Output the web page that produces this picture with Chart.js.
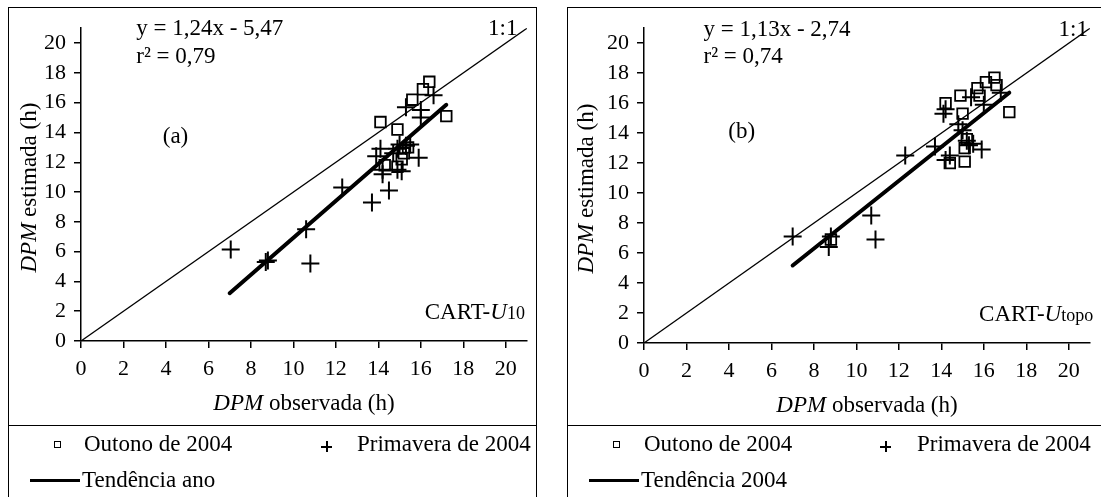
<!DOCTYPE html>
<html>
<head>
<meta charset="utf-8">
<script src="https://cdn.jsdelivr.net/npm/chart.js@4.4.1/dist/chart.umd.min.js"></script>
<style>
  body { margin: 0; width: 1101px; height: 497px; background: #fff; overflow: hidden; position: relative;
         font-family: "Liberation Serif", "Times New Roman", serif; color: #000; }
  .panel { position: absolute; top: 7px; height: 500px; }
  .frame { position: absolute; left: 0; top: 0; right: 0; bottom: 0; border: 1.5px solid #000; pointer-events: none; }
  .panel canvas { position: absolute; left: 0; top: 0; }
  .sep { position: absolute; left: 0; right: 0; top: 418px; border-top: 1.5px solid #000; }
  .lt { position: absolute; font-size: 23px; line-height: 24px; white-space: nowrap; }
  .sq { position: absolute; left: 46px; top: 434px; width: 5px; height: 5px; border: 1.5px solid #000; }
  .cr { position: absolute; left: 313px; top: 434px; width: 11px; height: 11px; }
  .cr::before, .cr::after { content: ""; position: absolute; background: #000; }
  .cr::before { left: 0; top: 4.5px; width: 11px; height: 2px; }
  .cr::after { left: 4.5px; top: 0; width: 2px; height: 11px; }
  .ln { position: absolute; left: 22px; top: 472px; width: 50px; height: 3px; background: #000; }
</style>
</head>
<body>

<div class="panel" style="left:8px; width:529px;">
  <canvas id="chartA" width="530" height="418"></canvas>
  <div class="frame"></div>
  <div class="sep"></div>
  <div class="sq"></div><div class="lt" style="left:76px; top:425px;">Outono de 2004</div>
  <div class="cr"></div><div class="lt" style="left:349px; top:425px;">Primavera de 2004</div>
  <div class="ln"></div><div class="lt" style="left:74px; top:461px;">Tendência ano</div>
</div>

<div class="panel" style="left:567px; width:540px;">
  <canvas id="chartB" width="534" height="418"></canvas>
  <div class="frame"></div>
  <div class="sep"></div>
  <div class="sq"></div><div class="lt" style="left:77px; top:425px;">Outono de 2004</div>
  <div class="cr"></div><div class="lt" style="left:350px; top:425px;">Primavera de 2004</div>
  <div class="ln"></div><div class="lt" style="left:74px; top:461px;">Tendência 2004</div>
</div>

<script>
const tickValues = [0, 2, 4, 6, 8, 10, 12, 14, 16, 18, 20];
const axisMax = 21;
const oneToOne = [0, 21];

// (a) CART-U10
const outonoAX = [14.1, 14.9, 15.6, 16.1, 16.4, 17.2, 14.3, 14.9, 15.1, 15.2, 15.4];
const outonoAY = [14.7, 14.2, 16.2, 16.9, 17.4, 15.1, 11.8, 11.7, 12.2, 12.6, 13.0];
const primaveraAX = [7.05, 8.7, 8.8, 10.6, 10.8, 12.3, 13.7, 14.5, 14.1, 13.9, 14.2, 14.2, 14.9, 15.1,
                     14.9, 15.0, 15.3, 15.5, 15.9, 15.3, 16.0, 16.0, 16.6, 14.7];
const primaveraAY = [6.15, 5.3, 5.4, 7.5, 5.2, 10.3, 9.3, 10.1, 12.9, 12.4, 11.5, 11.2, 11.5, 11.4,
                     12.9, 13.2, 13.1, 13.2, 12.3, 15.7, 15.5, 15.0, 16.5, 12.6];
const slopeA = 1.24, interceptA = -5.47, r2A = 0.79;
const trendRangeA = [7.0, 17.2];

// (b) CART-Utopo
const outonoBX = [14.2, 14.9, 15.0, 15.7, 15.8, 16.1, 16.5, 16.6, 17.2, 14.4, 15.1, 15.1, 15.2, 8.8];
const outonoBY = [16.0, 16.5, 15.3, 17.0, 16.5, 17.4, 17.7, 17.2, 15.4, 12.0, 12.1, 13.0, 13.6, 6.9];
const primaveraBX = [7.0, 8.8, 8.7, 10.7, 10.9, 12.3, 13.7, 14.1, 14.2, 14.2, 14.4, 14.8, 15.0, 15.2,
                     15.5, 15.9, 15.4, 16.0, 16.8, 15.3];
const primaveraBY = [7.1, 7.1, 6.4, 8.5, 6.9, 12.5, 13.1, 15.3, 15.6, 12.2, 12.5, 14.6, 14.2, 13.5,
                     13.3, 12.9, 16.4, 15.9, 16.7, 13.2];
const slopeB = 1.13, interceptB = -2.74, r2B = 0.74;
const trendRangeB = [7.0, 17.2];

const SERIF = '"Liberation Serif", "Times New Roman", serif';
const font = (size, italic) => (italic ? 'italic ' : '') + size + 'px ' + SERIF;
const comma = v => v.toFixed(2).replace('.', ',');
const pts = (xs, ys) => xs.map((x, i) => ({ x: x, y: ys[i] }));

// draws runs of text in mixed fonts along one baseline
function drawRuns(ctx, runs, x, y, align) {
  let total = 0;
  runs.forEach(r => { ctx.font = r.f; r.w = ctx.measureText(r.t).width; total += r.w; });
  let cx = align === 'center' ? x - total / 2 : align === 'right' ? x - total : x;
  ctx.textAlign = 'left';
  runs.forEach(r => { ctx.font = r.f; ctx.fillText(r.t, cx, y); cx += r.w; });
}

const panelText = {
  id: 'panelText',
  afterDraw(chart, args, o) {
    const { ctx, chartArea } = chart;
    const x = chart.scales.x, y = chart.scales.y;
    const px = v => x.getPixelForValue(v), py = v => y.getPixelForValue(v);
    ctx.save();
    ctx.fillStyle = '#000';
    ctx.textBaseline = 'middle';
    ctx.font = font(23);
    ctx.textAlign = 'left';
    ctx.fillText(o.eq, px(o.eqAt[0]), py(o.eqAt[1]));
    ctx.fillText(o.r2, px(o.eqAt[0]), py(o.eqAt[1] - 1.85));
    ctx.textAlign = 'center';
    ctx.fillText(o.tag, px(o.tagAt[0]), py(o.tagAt[1]));
    ctx.textAlign = 'right';
    ctx.fillText('1:1', px(o.oneAt), py(o.eqAt[1]));

    ctx.textBaseline = 'alphabetic';
    drawRuns(ctx, [
      { t: 'CART-', f: font(23) },
      { t: 'U', f: font(23, true) },
      { t: o.sub, f: font(18) }
    ], px(o.cartAt[0]), py(o.cartAt[1]), 'right');

    // axis titles
    drawRuns(ctx, [
      { t: 'DPM', f: font(23, true) },
      { t: ' observada (h)', f: font(23) }
    ], px(10.5), chartArea.bottom + 69, 'center');
    ctx.translate(chartArea.left - o.yTitleOff, py(10.3));
    ctx.rotate(-Math.PI / 2);
    drawRuns(ctx, [
      { t: 'DPM', f: font(23, true) },
      { t: ' estimada (h)', f: font(23) }
    ], 0, 0, 'center');
    ctx.restore();
  }
};

function axis(fit) {
  return {
    type: 'linear', min: 0, max: axisMax,
    afterBuildTicks: s => { s.ticks = tickValues.map(v => ({ value: v })); },
    afterFit: fit,
    border: { display: true, color: '#000', width: 1.5 },
    grid: { drawOnChartArea: false, drawTicks: true, tickLength: 7, color: '#000', lineWidth: 1.5 },
    ticks: { color: '#000', font: { family: SERIF, size: 22 }, padding: 8, maxRotation: 0, autoSkip: false }
  };
}

function makeChart(id, p) {
  return new Chart(document.getElementById(id), {
    type: 'scatter',
    data: {
      datasets: [
        {
          label: 'Outono de 2004', data: pts(p.ox, p.oy),
          pointStyle: 'rect', pointRadius: 7.5, borderWidth: 1.8,
          borderColor: '#000', backgroundColor: 'rgba(0,0,0,0)'
        },
        {
          label: 'Primavera de 2004', data: pts(p.px, p.py),
          pointStyle: 'cross', pointRadius: 9, borderWidth: 2,
          borderColor: '#000', backgroundColor: '#000'
        },
        {
          label: '1:1', type: 'line', data: pts(oneToOne, oneToOne),
          showLine: true, pointRadius: 0, borderWidth: 1.3, borderColor: '#000'
        },
        {
          label: p.trendName, type: 'line',
          data: pts(p.range, p.range.map(v => p.slope * v + p.intercept)),
          showLine: true, pointRadius: 0, borderWidth: 4, borderColor: '#000', borderCapStyle: 'round'
        }
      ]
    },
    options: {
      responsive: false,
      animation: false,
      layout: { padding: { top: p.top, right: p.right, left: 0, bottom: 0 } },
      plugins: {
        legend: { display: false },
        tooltip: { enabled: false },
        panelText: {
          eq: 'y = ' + comma(p.slope) + 'x - ' + comma(-p.intercept),
          r2: 'r² = ' + comma(p.r2),
          eqAt: p.eqAt, tag: p.tag, tagAt: p.tagAt, oneAt: p.oneAt,
          sub: p.sub, cartAt: p.cartAt, yTitleOff: p.yTitleOff
        }
      },
      scales: {
        x: axis(s => { s.height = p.xh; }),
        y: axis(s => { s.width = p.yw; })
      }
    },
    plugins: [panelText]
  });
}

makeChart('chartA', {
  ox: outonoAX, oy: outonoAY, px: primaveraAX, py: primaveraAY,
  slope: slopeA, intercept: interceptA, r2: r2A, range: trendRangeA, trendName: 'Tendência ano',
  top: 19, right: 3, xh: 84, yw: 73,
  eqAt: [2.6, 20.95], tag: '(a)', tagAt: [4.45, 13.7], oneAt: 20.55,
  sub: '10', cartAt: [20.9, 1.5], yTitleOff: 45
});

makeChart('chartB', {
  ox: outonoBX, oy: outonoBY, px: primaveraBX, py: primaveraBY,
  slope: slopeB, intercept: interceptB, r2: r2B, range: trendRangeB, trendName: 'Tendência 2004',
  top: 21, right: 7, xh: 82, yw: 77,
  eqAt: [2.8, 20.9], tag: '(b)', tagAt: [4.6, 14.05], oneAt: 20.9,
  sub: 'topo', cartAt: [21.15, 1.5], yTitleOff: 51
});
</script>
</body>
</html>
